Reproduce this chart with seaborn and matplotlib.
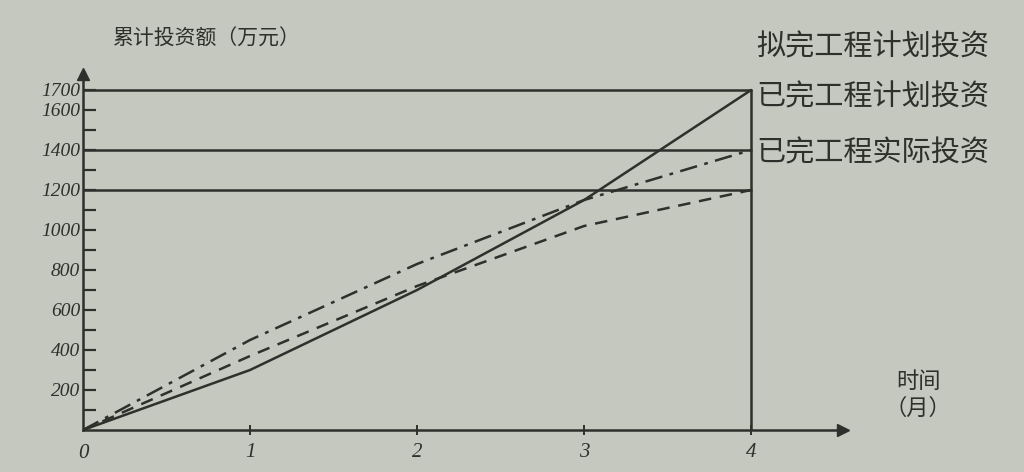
import numpy as np
import pandas as pd
import matplotlib
matplotlib.use("Agg")
import matplotlib.pyplot as plt
import seaborn as sns

# values (万元 per month)
months = [0, 1, 2, 3, 4]
planned_scheduled = [0, 300, 700, 1150, 1700]   # 拟完工程计划投资
planned_performed = [0, 450, 830, 1150, 1400]   # 已完工程计划投资
actual_performed = [0, 370, 720, 1020, 1200]    # 已完工程实际投资
series_names = ["拟完工程计划投资", "已完工程计划投资", "已完工程实际投资"]
y_ticks = [200, 400, 600, 800, 1000, 1200, 1400, 1600, 1700]
x_ticks = [1, 2, 3, 4]

df = pd.DataFrame({
    "month": months * 3,
    "value": planned_scheduled + planned_performed + actual_performed,
    "series": [series_names[0]] * 5 + [series_names[1]] * 5 + [series_names[2]] * 5,
})

sns.set_style("white")
plt.rcParams["font.family"] = ["Noto Sans CJK SC", "DejaVu Sans"]

bg = "#c5c8bf"
ink = "#2e302c"
fig = plt.figure(figsize=(10.24, 4.72), dpi=100, facecolor=bg)
ax = fig.add_axes([83 / 1024, 42 / 472, 760 / 1024, 356 / 472])
ax.set_facecolor(bg)

sns.lineplot(data=df, x="month", y="value", style="series", color=ink,
             dashes={series_names[0]: "", series_names[1]: (7, 3, 1.5, 3),
                     series_names[2]: (5, 3.5)},
             linewidth=1.8, legend=False, ax=ax)

# reference lines to the final values and the month-4 cut-off
for v in [planned_scheduled[-1], planned_performed[-1], actual_performed[-1]]:
    ax.plot([0, 4], [v, v], color=ink, lw=1.8)
ax.plot([4, 4], [0, planned_scheduled[-1]], color=ink, lw=1.8)

ax.set_xlim(0, 4.55)
ax.set_ylim(0, 1780)
for s in ["top", "right"]:
    ax.spines[s].set_visible(False)
for s in ["left", "bottom"]:
    ax.spines[s].set_color(ink)
    ax.spines[s].set_linewidth(1.8)
ax.plot(1, 0, ">", transform=ax.transAxes, color=ink, ms=9, clip_on=False)
ax.plot(0, 1, "^", transform=ax.transAxes, color=ink, ms=8, clip_on=False)

serif = {"family": "Liberation Serif", "style": "italic", "size": 14}
ax.set_yticks(y_ticks)
ax.set_yticklabels([str(t) for t in y_ticks], fontdict=serif, color=ink)
ax.set_yticks(np.arange(100, 1700, 200), minor=True)
ax.set_xticks(x_ticks)
ax.set_xticklabels([str(t) for t in x_ticks], fontdict={**serif, "size": 15}, color=ink)
ax.tick_params(axis="y", which="both", direction="in", length=9, width=1.6,
               color=ink, pad=2, left=True)
ax.tick_params(axis="x", direction="inout", length=7, width=1.4, color=ink,
               pad=6, bottom=True)
ax.set_xlabel("")
ax.set_ylabel("")
ax.text(0.0, -70, "0", ha="center", va="top", fontdict={**serif, "size": 15},
        color=ink)

ax.text(0.04, 1.1, "累计投资额（万元）", transform=ax.transAxes, ha="left",
        va="center", fontsize=15, color=ink)
ax.text(5.0, 175, "时间\n（月）", ha="center", va="center", fontsize=16,
        color=ink, linespacing=1.2, clip_on=False)

label_y = [1910, 1660, 1380]
for name, yy in zip(series_names, label_y):
    ax.text(4.03, yy, name, ha="left", va="center", fontsize=21, color=ink,
            clip_on=False)

fig.savefig("out.png", dpi=100, facecolor=bg)
